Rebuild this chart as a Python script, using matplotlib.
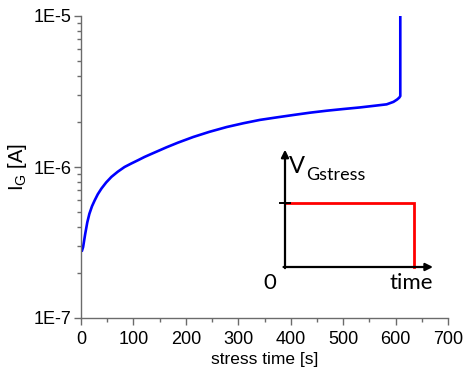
import numpy as np
import matplotlib
matplotlib.use("Agg")
import matplotlib.pyplot as plt
from matplotlib.ticker import MultipleLocator, LogLocator, NullFormatter, FixedLocator

plt.rcParams['font.family'] = ['Liberation Sans', 'DejaVu Sans']

# gate current vs stress time
t = [2, 4, 8, 12, 16, 21, 26, 32, 39, 48, 58, 70, 83, 96, 109, 121, 134,
     150, 163, 185, 214, 245, 278, 310, 341, 373, 405, 437, 469, 500, 532,
     558, 583, 596, 603, 607, 609, 609]
ig = [2.80e-7, 2.95e-7, 3.6e-7, 4.3e-7, 4.9e-7, 5.5e-7, 6.0e-7, 6.6e-7,
      7.2e-7, 7.9e-7, 8.6e-7, 9.3e-7, 1.0e-6, 1.055e-6, 1.11e-6, 1.165e-6,
      1.22e-6, 1.29e-6, 1.35e-6, 1.45e-6, 1.58e-6, 1.71e-6, 1.84e-6,
      1.95e-6, 2.05e-6, 2.13e-6, 2.21e-6, 2.29e-6, 2.36e-6, 2.42e-6,
      2.48e-6, 2.54e-6, 2.60e-6, 2.70e-6, 2.80e-6, 2.88e-6, 2.95e-6, 1.0e-5]

xticks = [0, 100, 200, 300, 400, 500, 600, 700]
yticks = [1e-7, 1e-6, 1e-5]
ylabels = ["1E-7", "1E-6", "1E-5"]

# schematic of the gate stress pulse (inset, normalised units)
pulse_x = [0.0, 0.872, 0.872]
pulse_y = [0.557, 0.557, 0.0]

fig = plt.figure(figsize=(4.65, 3.75), dpi=100)
ax = fig.add_axes([81/465, 57/375, 367/465, 302/375])

ax.plot(t, ig, color=(0, 0, 1), lw=1.9, solid_joinstyle='round')
ax.set_yscale('log')
ax.set_xlim(0, 700)
ax.set_ylim(1e-7, 1e-5)

grey = '#6b6b6b'
for s in ['top', 'right']:
    ax.spines[s].set_visible(False)
for s in ['left', 'bottom']:
    ax.spines[s].set_color(grey)
    ax.spines[s].set_linewidth(1.0)

ax.xaxis.set_major_locator(FixedLocator(xticks))
ax.xaxis.set_minor_locator(MultipleLocator(50))
ax.set_yticks(yticks)
ax.set_yticklabels(ylabels)
ax.yaxis.set_minor_locator(LogLocator(base=10, subs=np.arange(2, 10)))
ax.yaxis.set_minor_formatter(NullFormatter())
ax.tick_params(which='major', direction='out', length=5, width=1, color=grey,
               labelsize=13, pad=2)
ax.tick_params(axis='x', which='major', pad=4)
ax.tick_params(which='minor', direction='out', length=3, width=1, color=grey)

ax.set_xlabel("stress time [s]", fontsize=12.5, labelpad=3)
ax.set_ylabel(r"I$_\mathregular{G}$ [A]", fontsize=14.5, labelpad=3)

# inset pulse drawing
ins = fig.add_axes([285/465, 108/375, 148/465, 115/375])
ins.set_xlim(0, 1)
ins.set_ylim(0, 1)
ins.axis('off')
ins.annotate('', xy=(0, 1.02), xytext=(0, -0.01), xycoords='data',
             arrowprops=dict(arrowstyle='-|>', color='black', lw=1.6,
                             mutation_scale=11, shrinkA=0, shrinkB=0),
             annotation_clip=False)
ins.annotate('', xy=(1.0, 0), xytext=(-0.01, 0), xycoords='data',
             arrowprops=dict(arrowstyle='-|>', color='black', lw=1.6,
                             mutation_scale=11, shrinkA=0, shrinkB=0),
             annotation_clip=False)
ins.plot(pulse_x, pulse_y, color=(1, 0, 0), lw=2.0, clip_on=False,
         solid_joinstyle='miter')
ins.plot([-0.035, 0.035], [0.557, 0.557], color='black', lw=1.4, clip_on=False)

ifont = ['Lato', 'DejaVu Sans']
ins.text(0.025, 0.82, "V", fontsize=17, family=ifont, ha='left', va='baseline')
ins.text(0.145, 0.76, "Gstress", fontsize=13, family=ifont, ha='left', va='baseline')
ins.text(-0.1, -0.19, "0", fontsize=16, family=ifont, ha='center', va='baseline')
ins.text(1.0, -0.19, "time", fontsize=16, family=ifont, ha='right', va='baseline')

fig.savefig("out.png", dpi=100)
